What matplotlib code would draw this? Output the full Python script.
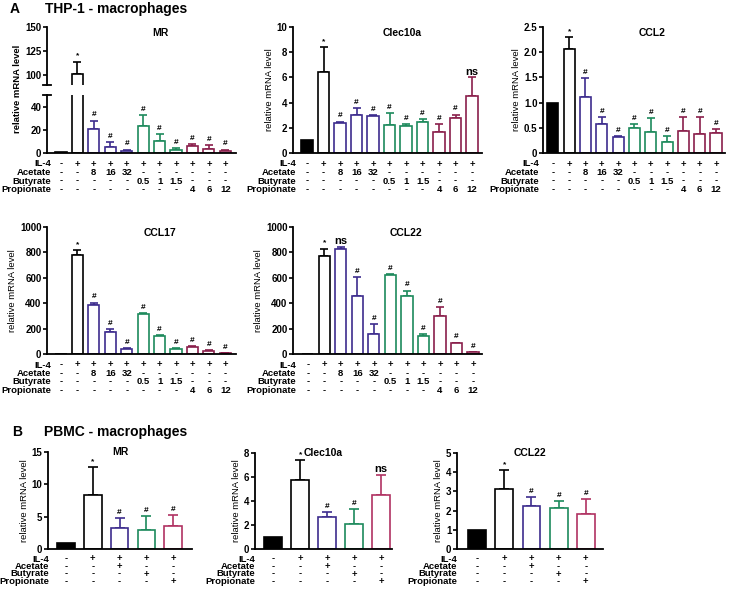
import numpy as np
import matplotlib
matplotlib.use("Agg")
import matplotlib.pyplot as plt

plt.rcParams['font.family'] = ['Liberation Sans Narrow', 'Liberation Sans', 'DejaVu Sans']
plt.rcParams['font.weight'] = 'bold'

# ---- panel A: THP-1 conditions (11 bars) ----
a_il4 = ['-', '+', '+', '+', '+', '+', '+', '+', '+', '+', '+']
a_acetate = ['-', '-', '8', '16', '32', '-', '-', '-', '-', '-', '-']
a_butyrate = ['-', '-', '-', '-', '-', '0.5', '1', '1.5', '-', '-', '-']
a_propionate = ['-', '-', '-', '-', '-', '-', '-', '-', '4', '6', '12']

a_mr = [1, 101, 21, 5.5, 2, 23, 10.5, 3, 6, 3.5, 1.5]
a_mr_err = [0, 13, 7, 4, 1, 9.5, 5.5, 1, 2, 3, 1.5]
a_mr_sig = ['', '*', '#', '#', '#', '#', '#', '#', '#', '#', '#']

a_clec = [1, 6.4, 2.4, 3.0, 2.9, 2.2, 2.15, 2.5, 1.65, 2.8, 4.5]
a_clec_err = [0, 2.0, 0.1, 0.6, 0.1, 1.0, 0.15, 0.2, 0.65, 0.25, 1.5]
a_clec_sig = ['', '*', '#', '#', '#', '#', '#', '#', '#', '#', 'ns']

a_ccl2 = [1.0, 2.07, 1.11, 0.58, 0.31, 0.49, 0.41, 0.22, 0.44, 0.38, 0.39]
a_ccl2_err = [0, 0.23, 0.37, 0.13, 0.02, 0.09, 0.29, 0.12, 0.28, 0.34, 0.09]
a_ccl2_sig = ['', '*', '#', '#', '#', '#', '#', '#', '#', '#', '#']

a_ccl17 = [1, 780, 385, 170, 40, 315, 140, 40, 55, 25, 8]
a_ccl17_err = [0, 40, 20, 25, 10, 10, 12, 8, 5, 5, 3]
a_ccl17_sig = ['', '*', '#', '#', '#', '#', '#', '#', '#', '#', '#']

a_ccl22 = [1, 775, 825, 455, 160, 620, 460, 145, 300, 85, 15]
a_ccl22_err = [0, 55, 20, 150, 75, 10, 40, 15, 70, 5, 3]
a_ccl22_sig = ['', '*', 'ns', '#', '#', '#', '#', '#', '#', '#', '#']

# ---- panel B: PBMC conditions (5 bars) ----
b_il4 = ['-', '+', '+', '+', '+']
b_acetate = ['-', '-', '+', '-', '-']
b_butyrate = ['-', '-', '-', '+', '-']
b_propionate = ['-', '-', '-', '-', '+']

b_mr = [1.0, 8.4, 3.3, 3.0, 3.6]
b_mr_err = [0, 4.3, 1.5, 2.1, 1.7]
b_mr_sig = ['', '*', '#', '#', '#']

b_clec = [1.0, 5.75, 2.7, 2.05, 4.5]
b_clec_err = [0, 1.65, 0.35, 1.3, 1.7]
b_clec_sig = ['', '*', '#', '#', 'ns']

b_ccl22 = [1.0, 3.15, 2.22, 2.15, 1.8]
b_ccl22_err = [0, 0.95, 0.47, 0.33, 0.8]
b_ccl22_sig = ['', '*', '#', '#', '#']

row_names = ['IL-4', 'Acetate', 'Butyrate', 'Propionate']

PURPLE = '#3d2c8d'
GREEN = '#1d8a5c'
MAROON = '#8a1f4c'
PINK = '#b03262'

a_edges = ['black', 'black'] + [PURPLE] * 3 + [GREEN] * 3 + [MAROON] * 3
a_faces = ['black'] + ['white'] * 10
b_edges = ['black', 'black', PURPLE, GREEN, PINK]
b_faces = ['black'] + ['white'] * 4

W, H = 729, 592
fig = plt.figure(figsize=(W / 100, H / 100), dpi=100)


def px_axes(x0, y0, x1, y1):
    return fig.add_axes([x0 / W, 1 - y1 / H, (x1 - x0) / W, (y1 - y0) / H])


def style(ax, ylim, yticks, xlim, ticklabels=None, bottom=True):
    ax.spines['top'].set_visible(False)
    ax.spines['right'].set_visible(False)
    ax.spines['left'].set_linewidth(1.3)
    ax.spines['bottom'].set_linewidth(1.3)
    if not bottom:
        ax.spines['bottom'].set_visible(False)
    ax.set_ylim(ylim)
    ax.set_xlim(xlim)
    ax.set_yticks(yticks)
    if ticklabels is not None:
        ax.set_yticklabels(ticklabels)
    ax.tick_params(axis='y', length=3, width=1.2, labelsize=7, pad=1)
    ax.tick_params(axis='x', length=0, labelbottom=False)


def draw_bars(ax, vals, errs, sigs, edges, faces, width=0.68, cap=2.8):
    x = np.arange(len(vals))
    ax.bar(x, vals, width=width, color=faces, edgecolor=edges, linewidth=1.2, zorder=2)
    for xi, v, e, c in zip(x, vals, errs, edges):
        if e > 0:
            ax.errorbar(xi, v, yerr=[[0], [e]], fmt='none', ecolor=c,
                        elinewidth=1.2, capsize=cap, capthick=1.2, zorder=1)
    for xi, v, e, s in zip(x, vals, errs, sigs):
        if s == 'ns':
            ax.annotate(s, (xi, v + e), xytext=(0, 0.5), textcoords='offset points',
                        ha='center', va='bottom', fontsize=8)
        elif s:
            ax.annotate(s, (xi, v + e), xytext=(0, 1.5), textcoords='offset points',
                        ha='center', va='bottom', fontsize=6)


def condition_rows(ax, rows, name_dx=2, offsets=(11, 19.5, 28, 36.5)):
    for name, marks, off in zip(row_names, rows, offsets):
        ax.annotate(name, (0, 0), xycoords='axes fraction', xytext=(name_dx, -off * 0.72),
                    textcoords='offset points', ha='right', va='center', fontsize=6.8)
        for i, m in enumerate(marks):
            ax.annotate(m, (i, 0), xycoords=('data', 'axes fraction'), xytext=(0, -off * 0.72),
                        textcoords='offset points', ha='center', va='center', fontsize=6.8)


def title(ax, text, x, y):
    ax.text(x, y, text, transform=ax.transAxes, ha='center', va='center', fontsize=7.5)


a_rows = [a_il4, a_acetate, a_butyrate, a_propionate]
b_rows = [b_il4, b_acetate, b_butyrate, b_propionate]
b_off = (10, 17.5, 25, 32.5)

# ---- A: MR with broken y axis ----
ax_up = px_axes(47, 27, 236, 85)
ax_lo = px_axes(47, 95, 236, 153)
for ax in (ax_up, ax_lo):
    draw_bars(ax, a_mr, a_mr_err, a_mr_sig, a_edges, a_faces)
style(ax_up, (90, 150), [100, 125, 150], (-0.85, 10.65), bottom=False)
style(ax_lo, (0, 50), [0, 20, 40], (-0.85, 10.65))
for ax, yb in ((ax_up, 0), (ax_lo, 1)):
    ax.plot([-0.02, 0.02], [yb, yb], transform=ax.transAxes, color='black', lw=1.3, clip_on=False)
title(ax_up, 'MR', 0.6, 0.9)
fig.text(18 / W, 1 - 89 / H, 'relative mRNA level', rotation=90, ha='center', va='center', fontsize=6.8)
condition_rows(ax_lo, a_rows, name_dx=3)

# ---- A: Clec10a ----
ax = px_axes(293, 27, 482, 153)
draw_bars(ax, a_clec, a_clec_err, a_clec_sig, a_edges, a_faces)
style(ax, (0, 10), [0, 2, 4, 6, 8, 10], (-0.85, 10.6))
ax.set_ylabel('relative mRNA level', fontsize=6.8, labelpad=2)
title(ax, 'Clec10a', 0.58, 0.95)
condition_rows(ax, a_rows, name_dx=2)

# ---- A: CCL2 ----
ax = px_axes(543, 27, 725, 153)
draw_bars(ax, a_ccl2, a_ccl2_err, a_ccl2_sig, a_edges, a_faces)
style(ax, (0, 2.5), [0, 0.5, 1.0, 1.5, 2.0, 2.5], (-0.6, 10.55),
      ticklabels=['0', '0.5', '1.0', '1.5', '2.0', '2.5'])
ax.set_ylabel('relative mRNA level', fontsize=6.8, labelpad=2)
title(ax, 'CCL2', 0.6, 0.95)
condition_rows(ax, a_rows, name_dx=-3)

# ---- A: CCL17 ----
ax = px_axes(47, 227, 236, 354)
draw_bars(ax, a_ccl17, a_ccl17_err, a_ccl17_sig, a_edges, a_faces)
style(ax, (0, 1000), [0, 200, 400, 600, 800, 1000], (-0.85, 10.65))
ax.set_ylabel('relative mRNA level', fontsize=6.8, labelpad=2)
title(ax, 'CCL17', 0.6, 0.95)
condition_rows(ax, a_rows, name_dx=3)

# ---- A: CCL22 ----
ax = px_axes(293, 227, 482, 354)
draw_bars(ax, a_ccl22, a_ccl22_err, a_ccl22_sig, a_edges, a_faces)
style(ax, (0, 1000), [0, 200, 400, 600, 800, 1000], (-0.9, 10.55))
ax.set_ylabel('relative mRNA level', fontsize=6.8, labelpad=2)
title(ax, 'CCL22', 0.6, 0.95)
condition_rows(ax, a_rows, name_dx=2)

# ---- B: MR ----
ax = px_axes(48, 452, 192, 549)
draw_bars(ax, b_mr, b_mr_err, b_mr_sig, b_edges, b_faces, width=0.66, cap=3.5)
style(ax, (0, 15), [0, 5, 10, 15], (-0.67, 4.7))
ax.set_ylabel('relative mRNA level', fontsize=6.8, labelpad=2)
title(ax, 'MR', 0.5, 1.0)
condition_rows(ax, b_rows, name_dx=1, offsets=b_off)

# ---- B: Clec10a ----
ax = px_axes(255, 453, 392, 549)
draw_bars(ax, b_clec, b_clec_err, b_clec_sig, b_edges, b_faces, width=0.66, cap=3.5)
style(ax, (0, 8), [0, 2, 4, 6, 8], (-0.67, 4.4))
ax.set_ylabel('relative mRNA level', fontsize=6.8, labelpad=2)
title(ax, 'Clec10a', 0.5, 1.0)
condition_rows(ax, b_rows, name_dx=0, offsets=b_off)

# ---- B: CCL22 ----
ax = px_axes(457, 453, 603, 549)
draw_bars(ax, b_ccl22, b_ccl22_err, b_ccl22_sig, b_edges, b_faces, width=0.66, cap=3.5)
style(ax, (0, 5), [0, 1, 2, 3, 4, 5], (-0.74, 4.63))
ax.set_ylabel('relative mRNA level', fontsize=6.8, labelpad=2)
title(ax, 'CCL22', 0.5, 1.0)
condition_rows(ax, b_rows, name_dx=0, offsets=b_off)

# ---- panel headings ----
fig.text(10 / W, 1 - 9 / H, 'A', fontsize=10, ha='left', va='center')
fig.text(45 / W, 1 - 9 / H, 'THP-1 - macrophages', fontsize=10, ha='left', va='center')
fig.text(12 / W, 1 - 432 / H, 'B', fontsize=10, ha='left', va='center')
fig.text(44 / W, 1 - 432 / H, 'PBMC - macrophages', fontsize=10, ha='left', va='center')

fig.savefig('out.png', dpi=100)
